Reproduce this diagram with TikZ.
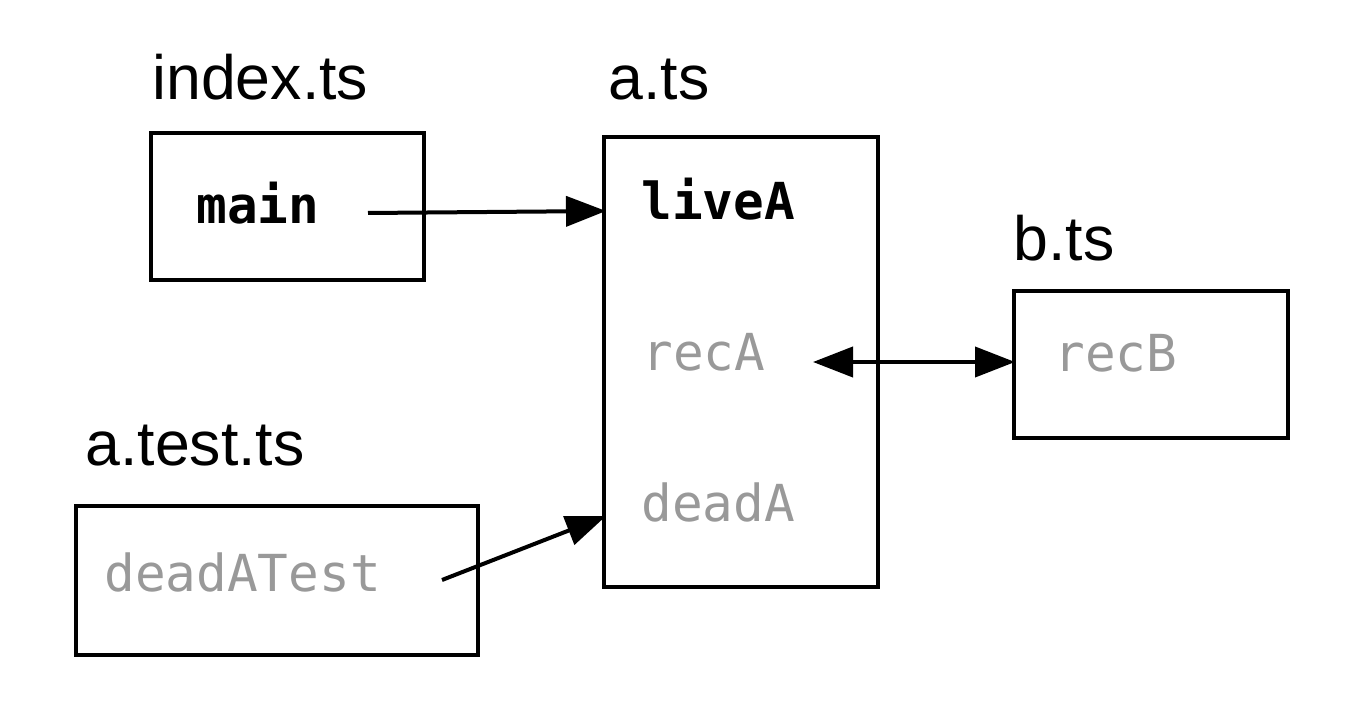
\documentclass[tikz,border=0pt]{standalone}
\usepackage{fontspec}
\setmainfont{Liberation Sans}
\newfontfamily\codefont{DejaVu Sans Mono}
\usetikzlibrary{arrows.meta}
\definecolor{deadgray}{RGB}{153,153,153}
\tikzset{
  filebox/.style={draw=black, line width=2pt, minimum width=137pt, minimum height=73.5pt, anchor=north west, outer sep=0pt, inner sep=0pt},
  filelabel/.style={anchor=base west, inner sep=0pt, font=\fontsize{31.3pt}{36pt}\selectfont},
  livefn/.style={anchor=base west, inner sep=0pt, font=\codefont\bfseries\fontsize{25.5pt}{30pt}\selectfont},
  deadfn/.style={anchor=base west, inner sep=0pt, text=deadgray, font=\codefont\fontsize{25.5pt}{30pt}\selectfont},
  link/.style={line width=2pt, -{Triangle[length=20pt,width=15pt]}},
  biglink/.style={line width=2pt, {Triangle[length=20pt,width=15pt]}-{Triangle[length=20pt,width=15pt]}}
}
\begin{document}
\begin{tikzpicture}[x=0.5pt, y=-0.5pt]
\useasboundingbox (0,0) rectangle (1356,706);
% boxes
\node[filebox, minimum width=136.5pt, minimum height=73.5pt] (indexbox) at (151,133) {};
\node[filebox, minimum width=137pt, minimum height=225pt] (abox) at (604,137) {};
\node[filebox, minimum width=137pt, minimum height=73.5pt] (bbox) at (1014,291) {};
\node[filebox, minimum width=201pt, minimum height=74.5pt] (testbox) at (76,506) {};
% file labels
\node[filelabel] (indexlbl) at (152,100) {index.ts};
\node[filelabel] (albl) at (608,100) {a.ts};
\node[filelabel] (blbl) at (1013,260) {b.ts};
\node[filelabel] (testlbl) at (85,465) {a.test.ts};
% functions
\node[livefn] (main) at (196,224) {main};
\node[livefn] (liveA) at (641,220) {liveA};
\node[deadfn] (recA) at (642,370) {recA};
\node[deadfn] (deadA) at (641,521) {deadA};
\node[deadfn] (recB) at (1054,371) {recB};
\node[deadfn] (deadATest) at (104,591) {deadATest};
% connector ends
\coordinate (m0) at (368,213);
\coordinate (m1) at (606,211);
\coordinate (r0) at (813,362);
\coordinate (r1) at (1015,362);
\coordinate (d0) at (442,580);
\coordinate (d1) at (606,516);
\draw[link] (m0) -- (m1);
\draw[biglink] (r0) -- (r1);
\draw[link] (d0) -- (d1);
\end{tikzpicture}
\end{document}
